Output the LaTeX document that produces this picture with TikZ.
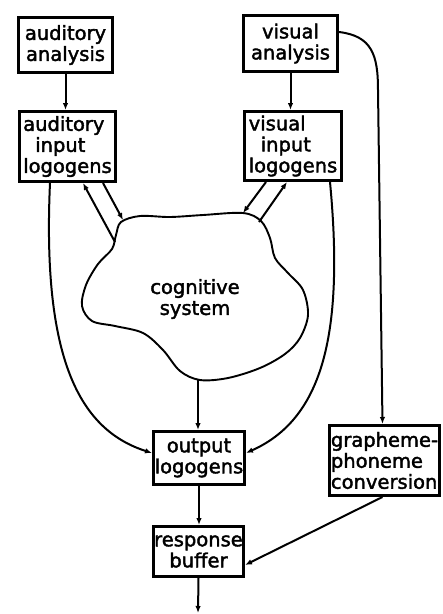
\documentclass[tikz,border=0pt]{standalone}
\usepackage{fontspec}
\newfontfamily\diagfont[FakeBold=2]{DejaVu Sans}
\usetikzlibrary{arrows.meta,calc}

\begin{document}
\begin{tikzpicture}[x=1pt,y=-1pt,
  box/.style={draw, line width=3pt, inner sep=0pt, align=center,
    font=\diagfont\fontsize{19.5}{21}\selectfont},
  conn/.style={line width=2pt, -{Latex[length=7pt,width=5.5pt]}},
  cloudline/.style={line width=1.9pt}
  ]
\useasboundingbox (0,0) rectangle (443,614);

% processing stages
\node[box, minimum width=94pt, minimum height=55pt] (aa) at (65.5,45) {auditory\\analysis};
\node[box, minimum width=94pt, minimum height=56pt] (va) at (290.5,43.5) {visual\\analysis};
\node[box, align=left, minimum width=96pt, minimum height=70pt] (ail) at (67.5,146.5)
  {auditory\\\hspace*{12pt}input\\logogens};
\node[box, align=left, minimum width=97pt, minimum height=69pt] (vil) at (293,146)
  {visual\\\hspace*{12pt}input\\logogens};
\node[box, minimum width=91pt, minimum height=53pt] (ol) at (199,458) {output\\logogens};
\node[box, align=left, minimum width=110pt, minimum height=70pt] (gp) at (384.5,460.5)
  {grapheme-\\phoneme\\conversion};
\node[box, minimum width=90pt, minimum height=50pt] (rb) at (198.5,551.5) {response\\buffer};

% the cognitive system as an irregular blob
\draw[cloudline] plot[smooth cycle, tension=0.55] coordinates {
  (121,222) (140,216) (170,217) (203,215) (243,213) (261,221) (270,238)
  (275,258) (288,273) (303,290) (308,315) (300,338) (285,354) (260,368)
  (228,378) (200,380) (180,371) (163,350) (143,333) (115,326) (92,321)
  (82,306) (86,285) (98,264) (112,249) (116,235)};
\node[font=\diagfont\fontsize{19.5}{21}\selectfont, align=center] (cog) at (195,299) {cognitive\\system};

% contact points on the blob's outline
\coordinate (cA1) at (115,242);
\coordinate (cA2) at (123,220);
\coordinate (cV1) at (243,213);
\coordinate (cV2) at (259,222);
\coordinate (cB) at (198,380);
\coordinate (out) at (198,613);

% connectors
\draw[conn] (aa.south) -- (aa.south |- ail.north);
\draw[conn] (va.south) -- (va.south |- vil.north);

\draw[conn] (cA1) -- ($(ail.south)+(15.5,0)$);
\draw[conn] ($(ail.south)+(35.5,0)$) -- (cA2);
\draw[conn] ($(vil.south)+(-27,0)$) -- (cV1);
\draw[conn] (cV2) -- ($(vil.south)+(-6,0)$);

\draw[conn] ($(ail.south)+(-17.5,0)$) .. controls (42,360) and (80,430) .. ($(ol.west)+(0,-5)$);
\draw[conn] ($(vil.south)+(37,0)$) .. controls (345,340) and (320,420) .. ($(ol.east)+(0,-5)$);
\draw[conn] (cB) -- (cB |- ol.north);

\draw[conn] ($(va.east)+(0,-11.5)$) .. controls (372,36) and (378,55) .. (378,90)
  -- ($(gp.north)+(-2,0)$);

\draw[conn] (ol.south) -- (ol.south |- rb.north);
\draw[conn] ($(gp.south)+(-2,0)$) -- ($(rb.east)+(0,13.5)$);
\draw[conn] (rb.south) -- (out);
\end{tikzpicture}
\end{document}
